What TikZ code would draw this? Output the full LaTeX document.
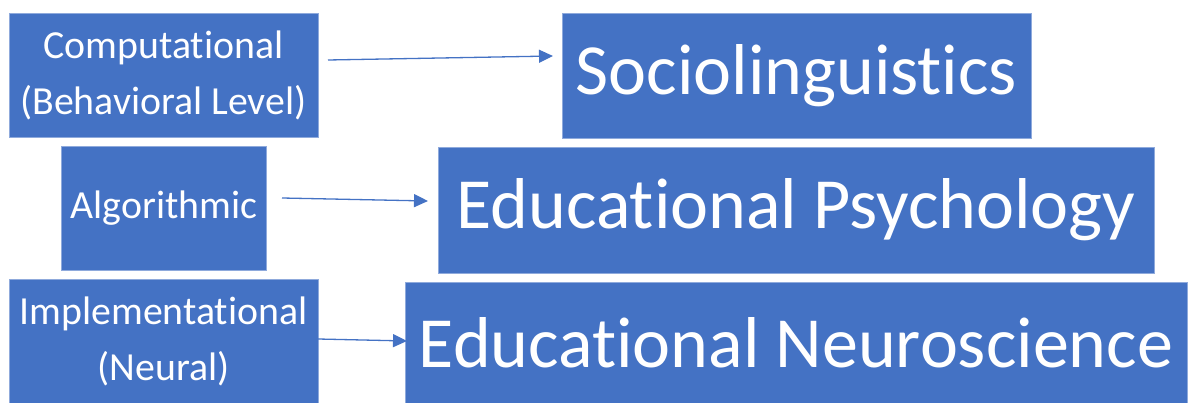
\documentclass[tikz,border=0pt]{standalone}
\usepackage{fontspec}
\setmainfont{Carlito}[Ligatures=NoCommon,RawFeature={-liga}]
\usetikzlibrary{arrows.meta}
\definecolor{boxblue}{HTML}{4472C4}
\definecolor{boxedge}{HTML}{8FAADC}
\tikzset{
  bluebox/.style={draw=boxedge, line width=0.8pt, fill=boxblue, text=white, inner sep=0pt, align=center},
  smalltxt/.style={font=\fontsize{39.8}{56}\selectfont},
  bigtxt/.style={font=\fontsize{72}{80}\selectfont},
  conn/.style={draw=boxblue, line width=1.3pt, -{Triangle[length=14pt,width=13pt]}}
}
\begin{document}
\begin{tikzpicture}[x=1pt,y=-1pt]
\useasboundingbox (0,0) rectangle (1189,403);
\node[bluebox, smalltxt, minimum width=309pt, minimum height=124pt] (b1) at (163.5,75) {Computational\\(Behavioral Level)};
\node[bluebox, smalltxt, minimum width=205pt, minimum height=124pt] (b2) at (164,208) {Algorithmic};
\node[bluebox, smalltxt, minimum width=309pt, minimum height=124pt] (b3) at (163.5,341) {Implementational\\(Neural)};
\node[bluebox, bigtxt, minimum width=469pt, minimum height=125pt] (b4) at (796.5,75.5) {Sociolinguistics};
\node[bluebox, bigtxt, minimum width=716pt, minimum height=126pt] (b5) at (796,210) {Educational Psychology};
\node[bluebox, bigtxt, minimum width=782pt, minimum height=121pt] (b6) at (796,342.5) {Educational Neuroscience};
\coordinate (a1s) at (328,60);
\coordinate (a1e) at (553,56);
\coordinate (a2s) at (282,198);
\coordinate (a2e) at (428,201);
\coordinate (a3s) at (318,339);
\coordinate (a3e) at (407,341);
\draw[conn] (a1s) -- (a1e);
\draw[conn] (a2s) -- (a2e);
\draw[conn] (a3s) -- (a3e);
\end{tikzpicture}
\end{document}
